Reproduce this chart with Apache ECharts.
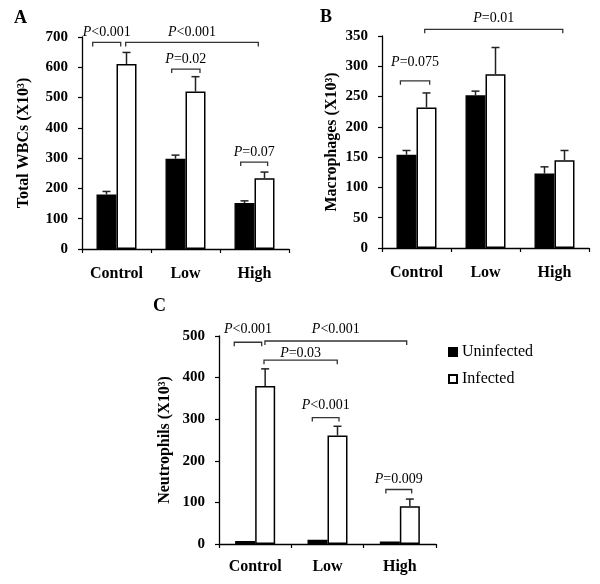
<!DOCTYPE html>
<html>
<head>
<meta charset="utf-8">
<script src="https://cdn.jsdelivr.net/npm/echarts@6/dist/echarts.min.js"></script>
<style>html,body{margin:0;padding:0;background:#fff;}#chart{width:600px;height:584px;}</style>
</head>
<body>
<div id="chart"></div>
<script>
// ---- data ----
const categories = ['Control', 'Low', 'High'];
const seriesNames = ['Uninfected', 'Infected'];

const wbcUninfected = [180, 298, 152];
const wbcUninfectedSD = [10, 12, 7];
const wbcInfected = [611, 520, 234];
const wbcInfectedSD = [38, 49, 20];
const wbcTicks = [0, 100, 200, 300, 400, 500, 600, 700];

const macUninfected = [154, 252, 123];
const macUninfectedSD = [7, 7, 11];
const macInfected = [232, 287, 145];
const macInfectedSD = [24, 44, 16];
const macTicks = [0, 50, 100, 150, 200, 250, 300, 350];

const neuUninfected = [7, 10, 6];
const neuUninfectedSD = [0, 0, 0];
const neuInfected = [380, 261, 91];
const neuInfectedSD = [41, 22, 17];
const neuTicks = [0, 100, 200, 300, 400, 500];

// significance brackets: x in category units, y & label y in value units
const wbcBrackets = [
  { x1: -0.345, x2: 0.061, y: 682, ly: 716, text: '<0.001' },
  { x1: 0.133, x2: 2.055, y: 682, ly: 716, text: '<0.001' },
  { x1: 0.80, x2: 1.21, y: 594, ly: 625, text: '=0.02' },
  { x1: 1.80, x2: 2.19, y: 287, ly: 319, text: '=0.07' }
];
const macBrackets = [
  { x1: 0.119, x2: 2.12, y: 361, ly: 379, text: '=0.01' },
  { x1: -0.233, x2: 0.191, y: 276, ly: 306, text: '=0.075' }
];
const neuBrackets = [
  { x1: -0.289, x2: 0.09, y: 485, ly: 515, text: '<0.001' },
  { x1: 0.135, x2: 2.095, y: 488, ly: 515, text: '<0.001' },
  { x1: 0.122, x2: 1.135, y: 442, ly: 458, text: '=0.03' },
  { x1: 0.79, x2: 1.159, y: 304, ly: 334, text: '<0.001' },
  { x1: 1.807, x2: 2.164, y: 131, ly: 155, text: '=0.009' }
];

// ---- chart ----
const FONT = 'Liberation Serif';
const BAR_W = 20;

const panels = [
  { title: 'A', yName: 'Total WBCs (X10³)', ticks: wbcTicks, u: wbcUninfected, uSD: wbcUninfectedSD, i: wbcInfected, iSD: wbcInfectedSD, br: wbcBrackets,
    grid: { left: 82, top: 37, width: 207, height: 212 }, nameGap: 50, titlePos: { left: 14, top: 9 }, labelMargin: 17 },
  { title: 'B', yName: 'Macrophages (X10³)', ticks: macTicks, u: macUninfected, uSD: macUninfectedSD, i: macInfected, iSD: macInfectedSD, br: macBrackets,
    grid: { left: 382, top: 36, width: 207, height: 212 }, nameGap: 42, titlePos: { left: 320, top: 8 }, labelMargin: 17 },
  { title: 'C', yName: 'Neutrophils (X10³)', ticks: neuTicks, u: neuUninfected, uSD: neuUninfectedSD, i: neuInfected, iSD: neuInfectedSD, br: neuBrackets,
    grid: { left: 219, top: 336, width: 217, height: 208 }, nameGap: 46, titlePos: { left: 153, top: 297 }, labelMargin: 15 }
];

const option = {
  backgroundColor: '#fff',
  animation: false,
  title: [],
  grid: [],
  xAxis: [],
  yAxis: [],
  series: [],
  legend: {
    data: seriesNames,
    orient: 'vertical',
    left: 448, top: 344,
    padding: 0,
    itemWidth: 8, itemHeight: 8, itemGap: 11,
    icon: 'rect',
    textStyle: { fontFamily: FONT, fontSize: 16, color: '#000' }
  }
};

const richP = {
  i: { fontFamily: FONT, fontSize: 14, fontStyle: 'italic', color: '#000' },
  n: { fontFamily: FONT, fontSize: 14, color: '#000' }
};

panels.forEach((p, k) => {
  option.title.push({ text: p.title, left: p.titlePos.left, top: p.titlePos.top, padding: 0,
    textStyle: { fontFamily: FONT, fontSize: 18, fontWeight: 'bold', color: '#000' } });
  option.grid.push(Object.assign({ containLabel: false }, p.grid));
  option.xAxis.push({
    type: 'category', gridIndex: k, data: categories,
    axisLine: { onZero: false, lineStyle: { color: '#000', width: 1.3 } },
    axisTick: { show: true, length: 4, inside: false, lineStyle: { color: '#000', width: 1.2 } },
    axisLabel: { fontFamily: FONT, fontSize: 16, fontWeight: 'bold', color: '#000', margin: p.labelMargin },
    splitLine: { show: false }
  });
  option.yAxis.push({
    type: 'value', gridIndex: k,
    min: p.ticks[0], max: p.ticks[p.ticks.length - 1], interval: p.ticks[1] - p.ticks[0],
    name: p.yName, nameLocation: 'middle', nameGap: p.nameGap,
    nameTextStyle: { fontFamily: FONT, fontSize: 16, fontWeight: 'bold', color: '#000' },
    axisLine: { show: true, onZero: false, lineStyle: { color: '#000', width: 1.3 } },
    axisTick: { show: true, length: 4, lineStyle: { color: '#000', width: 1.2 } },
    axisLabel: { fontFamily: FONT, fontSize: 15, fontWeight: 'bold', color: '#000', margin: 14 },
    splitLine: { show: false }
  });
});
// hidden value x axes for bracket annotations
panels.forEach((p, k) => {
  option.xAxis.push({ type: 'value', gridIndex: k, min: -0.5, max: 2.5, show: false,
    axisLine: { onZero: false } });
});

panels.forEach((p, k) => {
  option.series.push({
    name: seriesNames[0], type: 'bar', xAxisIndex: k, yAxisIndex: k, data: p.u,
    barWidth: BAR_W, barGap: '0%',
    itemStyle: { color: '#000', borderColor: '#000', borderWidth: 1.2 }
  });
  option.series.push({
    name: seriesNames[1], type: 'bar', xAxisIndex: k, yAxisIndex: k, data: p.i,
    barWidth: BAR_W, barGap: '0%',
    itemStyle: { color: '#fff', borderColor: '#000', borderWidth: 1.5 }
  });
  // error bars
  const errData = [];
  p.u.forEach((v, j) => errData.push([j, v, v + p.uSD[j], 0]));
  p.i.forEach((v, j) => errData.push([j, v, v + p.iSD[j], 1]));
  option.series.push({
    type: 'custom', xAxisIndex: k, yAxisIndex: k, data: errData, z: 5, silent: true,
    encode: { x: 0, y: [1, 2] },
    renderItem: function (params, api) {
      const mean = api.value(1), hi = api.value(2), s = api.value(3);
      if (hi <= mean) return null;
      const b = api.coord([api.value(0), mean]);
      const t = api.coord([api.value(0), hi]);
      const x = b[0] + (s === 0 ? -BAR_W / 2 : BAR_W / 2);
      const st = { stroke: '#222', lineWidth: 1.5 };
      return { type: 'group', children: [
        { type: 'line', shape: { x1: x, y1: b[1], x2: x, y2: t[1] }, style: st },
        { type: 'line', shape: { x1: x - 4, y1: t[1], x2: x + 4, y2: t[1] }, style: st }
      ] };
    }
  });
  // brackets
  const br = p.br;
  option.series.push({
    type: 'custom', xAxisIndex: 3 + k, yAxisIndex: k, z: 6, silent: true, clip: false,
    data: br.map(b => [b.x1, b.x2, b.y, b.ly]),
    encode: { x: [0, 1], y: [2, 3] },
    renderItem: function (params, api) {
      const x1 = api.value(0), x2 = api.value(1), y = api.value(2), ly = api.value(3);
      const p1 = api.coord([x1, y]), p2 = api.coord([x2, y]);
      const pl = api.coord([(x1 + x2) / 2, ly]);
      const txt = br[params.dataIndex].text;
      return { type: 'group', children: [
        { type: 'polyline', shape: { points: [[p1[0], p1[1] + 4], [p1[0], p1[1]], [p2[0], p2[1]], [p2[0], p2[1] + 4]] },
          style: { stroke: '#333', lineWidth: 1.3, fill: null } },
        { type: 'text', x: pl[0], y: pl[1],
          style: { text: '{i|P}{n|' + txt + '}', rich: richP, align: 'center', verticalAlign: 'middle',
            fontFamily: FONT, fontSize: 14, fill: '#000' } }
      ] };
    }
  });
});

const chart = echarts.init(document.getElementById('chart'), null, { renderer: 'canvas' });
chart.setOption(option);
</script>
</body>
</html>
